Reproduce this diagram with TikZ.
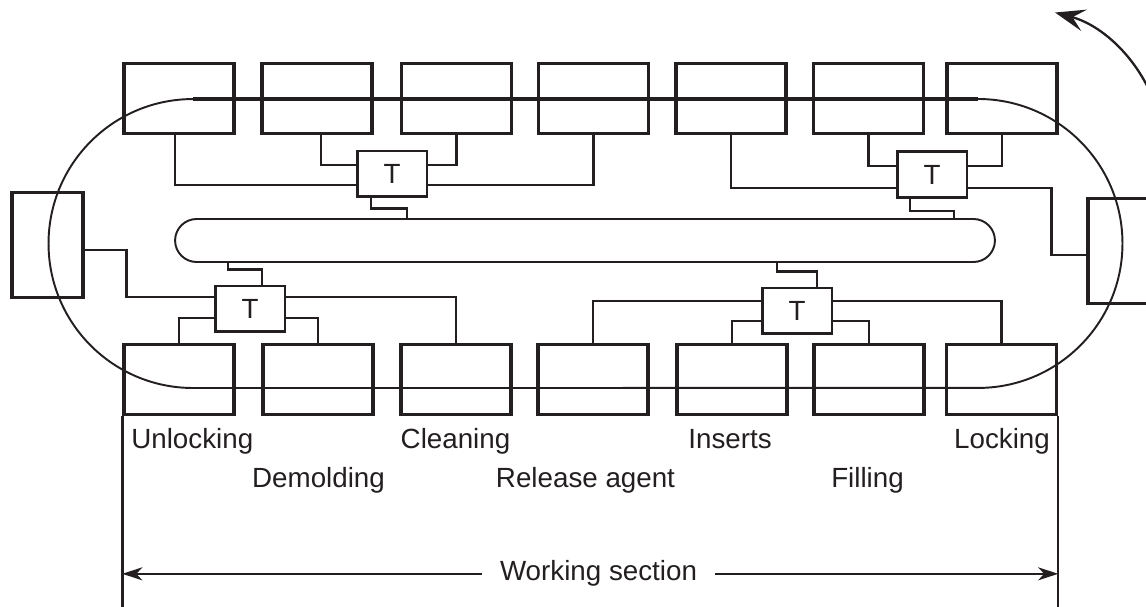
\documentclass[tikz,border=0pt]{standalone}
\usepackage{fontspec}
\setmainfont{Liberation Sans}
\usetikzlibrary{arrows.meta,calc}
\definecolor{ink}{RGB}{35,31,32}

\begin{document}
\begin{tikzpicture}[
    x=0.02cm, y=-0.02cm,
    every node/.style={font=\fontsize{15.8}{18}\selectfont, text=ink},
    box/.style={rectangle, draw=ink, line width=1.9pt, minimum width=2.2cm, minimum height=1.4cm, inner sep=0pt},
    tbox/.style={rectangle, draw=ink, line width=1.7pt, minimum width=1.4cm, minimum height=0.92cm, inner sep=0pt},
    side/.style={rectangle, draw=ink, line width=1.9pt, minimum width=1.42cm, minimum height=2.1cm, inner sep=0pt},
    wire/.style={draw=ink, line width=1.35pt},
    track/.style={draw=ink, line width=1.1pt},
    conveyor/.style={draw=ink, line width=1.9pt},
    lbl/.style={anchor=base, inner sep=0pt},
    dim/.style={draw=ink, line width=1.2pt, -{Stealth[length=4mm, width=2.6mm, inset=1.2mm]}},
    spin/.style={draw=ink, line width=1.3pt, -{Stealth[length=6mm, width=4.4mm, inset=2.4mm]}},
]
\useasboundingbox (0,0) rectangle (1146,607);
\clip (0,0) rectangle (1146,607);

% ====== Track ======
\draw[conveyor] (193,99) -- (978,99);
\draw[track] (978,99) arc[start angle=90, end angle=-90, radius=2.89cm]
    -- (193,388) arc[start angle=270, end angle=90, radius=2.89cm];
\node[track, rectangle, rounded corners=4.3mm, minimum width=16.4cm, minimum height=8.6mm, inner sep=0pt] (bar) at (585,240.5) {};

% rotation
\coordinate (spinc) at (1017,154.5);
\draw[spin] ($(spinc)+(15:2.94cm)$) arc[start angle=15, end angle=75, radius=2.94cm];

% ====== Stations, top ======
\node[box] (b1) at (179,98.5) {};
\node[box] (b2) at (317,98.5) {};
\node[box] (b3) at (456.5,98.5) {};
\node[box] (b4) at (593.5,98.5) {};
\node[box] (b5) at (731,98.5) {};
\node[box] (b6) at (868.5,98.5) {};
\node[box] (b7) at (1002,98.5) {};

% ====== Stations, bottom ======
\node[box] (bb1) at (179,379.5) {};
\node[box] (bb2) at (318,379.5) {};
\node[box] (bb3) at (456,379.5) {};
\node[box] (bb4) at (593,379.5) {};
\node[box] (bb5) at (732,379.5) {};
\node[box] (bb6) at (869,379.5) {};
\node[box] (bb7) at (1001.5,379.5) {};

% ====== Ends ======
\node[side] (lbox) at (47.5,245) {};
\node[side] (rbox) at (1123.5,251) {};

% ====== Terminals ======
\node[tbox] (t1) at (392,174) {T};
\node[tbox] (t2) at (932,174.5) {T};
\node[tbox] (t3) at (250,309) {T};
\node[tbox] (t4) at (797,311) {T};

% top left T
\draw[wire] ([xshift=-0.08cm]b1.south) |- ([yshift=-2.2mm]t1.west);
\draw[wire] ([xshift=0.08cm]b2.south) |- ([yshift=1.8mm]t1.west);
\draw[wire] (b3.south) |- ([yshift=1.8mm]t1.east);
\draw[wire] (b4.south) |- ([yshift=-2.2mm]t1.east);
\draw[wire] ([xshift=-4.2mm]t1.south) |- ([xshift=3mm,yshift=-2mm]t1.south) -- ([xshift=3mm]t1.south |- bar.north);

% top right T
\draw[wire] (b5.south) |- ([yshift=-2.7mm]t2.west);
\draw[wire] (b6.south) |- ([yshift=1.7mm]t2.west);
\draw[wire] (b7.south) |- ([yshift=1.7mm]t2.east);
\draw[wire] ([yshift=-2.7mm]t2.east) -- ++(83,0) |- ([yshift=-0.8mm]rbox.west);
\draw[wire] ([xshift=-4.4mm]t2.south) |- ([xshift=4.4mm,yshift=-2.4mm]t2.south) -- ([xshift=4.4mm]t2.south |- bar.north);

% bottom left T
\draw[wire] ([yshift=-1mm]lbox.east) -- ++(42,0) |- ([yshift=2.4mm]t3.west);
\draw[wire] ([yshift=-1.8mm]t3.west) -| (bb1.north);
\draw[wire] ([yshift=-1.8mm]t3.east) -| (bb2.north);
\draw[wire] ([yshift=2.4mm]t3.east) -| (bb3.north);
\draw[wire] ([xshift=-4.4mm]t3.north |- bar.south) |- ([xshift=2.4mm,yshift=3mm]t3.north) -- ([xshift=2.4mm]t3.north);

% bottom right T
\draw[wire] ([yshift=2mm]t4.west) -| (bb4.north);
\draw[wire] ([yshift=-2mm]t4.west) -| (bb5.north);
\draw[wire] ([yshift=-2mm]t4.east) -| (bb6.north);
\draw[wire] ([yshift=2mm]t4.east) -| (bb7.north);
\draw[wire] ([xshift=-4mm]t4.north |- bar.south) |- ([xshift=4mm,yshift=3mm]t4.north) -- ([xshift=4mm]t4.north);

% ====== Labels ======
\node[lbl, anchor=base west] (lunlock) at (131,449) {Unlocking};
\node[lbl] (ldemold) at (318.5,488) {Demolding};
\node[lbl] (lclean) at (455.5,449) {Cleaning};
\node[lbl] (lrelease) at (585.5,488) {Release agent};
\node[lbl] (linsert) at (730,449) {Inserts};
\node[lbl] (lfill) at (867.5,488) {Filling};
\node[lbl] (llock) at (1002,449) {Locking};

% ====== Working section ======
\coordinate (base) at (0,607);
\draw[wire] (bb1.south west) -- (bb1.south west |- base);
\draw[wire] (bb7.south east) -- (bb7.south east |- base);
\node[lbl, inner xsep=3.5mm] (ws) at (598.5,581) {Working section};
\draw[dim] (ws.west) -- (ws.west -| bb1.south west);
\draw[dim] (ws.east) -- (ws.east -| bb7.south east);

\end{tikzpicture}
\end{document}
